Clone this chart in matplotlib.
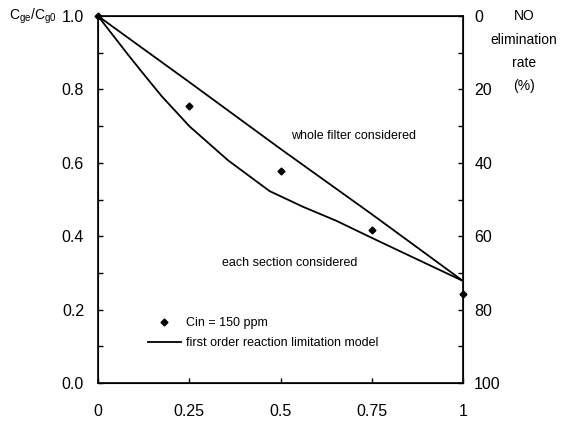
import numpy as np
import matplotlib
matplotlib.use('Agg')
import matplotlib.pyplot as plt
from matplotlib.lines import Line2D

plt.rcParams['font.family'] = ['Liberation Sans', 'DejaVu Sans']
plt.rcParams['mathtext.fontset'] = 'custom'
plt.rcParams['mathtext.rm'] = 'Liberation Sans'

# measured points (Cin = 150 ppm)
x_meas = [0.0, 0.25, 0.5, 0.75, 1.0]
y_meas = [1.0, 0.755, 0.578, 0.416, 0.242]

# model: whole filter considered
x_whole = [0.0, 0.25, 0.5, 0.75, 1.0]
y_whole = [1.0, 0.82, 0.638, 0.46, 0.278]

# model: each section considered
x_sect = [0.0, 0.082, 0.128, 0.174, 0.251, 0.356, 0.47, 0.562, 0.653, 0.749, 0.836, 1.0]
y_sect = [1.0, 0.895, 0.838, 0.782, 0.699, 0.607, 0.523, 0.480, 0.442, 0.396, 0.355, 0.278]

fig = plt.figure(figsize=(5.62, 4.25), dpi=100)
ax = fig.add_axes([0.1744, 0.0988, 0.6495, 0.8635])

ax.plot(x_whole, y_whole, color='black', lw=1.3)
ax.plot(x_sect, y_sect, color='black', lw=1.3)
ax.plot(x_meas, y_meas, 'D', color='black', ms=3.5, clip_on=False, zorder=5)

ax.set_xlim(0, 1)
ax.set_ylim(0, 1.0)
ax.set_xticks([0, 0.25, 0.5, 0.75, 1])
ax.set_xticklabels(['0', '0.25', '0.5', '0.75', '1'])
ax.set_yticks([0, 0.2, 0.4, 0.6, 0.8, 1.0])
ax.set_yticklabels(['0.0', '0.2', '0.4', '0.6', '0.8', '1.0'])
ax.set_yticks(np.arange(0.1, 1.0, 0.2), minor=True)
ax.tick_params(axis='both', direction='in', length=3.5, width=1, labelsize=11.5)
ax.tick_params(axis='y', which='minor', direction='in', length=3.5, width=1)
ax.tick_params(axis='y', pad=10)
ax.tick_params(axis='x', pad=15)
for s in ax.spines.values():
    s.set_linewidth(1.2)

ax2 = ax.twinx()
ax2.set_ylim(100, 0)
ax2.set_yticks([0, 20, 40, 60, 80, 100])
ax2.set_yticks([10, 30, 50, 70, 90], minor=True)
ax2.tick_params(axis='y', which='both', direction='in', length=3.5, width=1, labelsize=11.5, pad=8)

ax.text(0.70, 0.673, 'whole filter considered', fontsize=9, ha='center', va='center')
ax.text(0.526, 0.327, 'each section considered', fontsize=9, ha='center', va='center')

fig.text(0.058, 0.962, r'C$_{\rm ge}$/C$_{\rm g0}$', fontsize=10, ha='center', va='center')
fig.text(0.932, 0.978, 'NO\nelimination\nrate\n(%)', fontsize=10, ha='center', va='top',
         linespacing=1.85)

handles = [Line2D([], [], marker='D', ls='none', color='black', ms=3.5),
           Line2D([], [], color='black', lw=1.3)]
ax.legend(handles, ['Cin = 150 ppm', 'first order reaction limitation model'],
          loc='lower left', bbox_to_anchor=(0.12, 0.075), frameon=False, fontsize=9,
          handlelength=2.6, handletextpad=0.4, labelspacing=0.65, borderpad=0)

fig.savefig('out.png', dpi=100)
